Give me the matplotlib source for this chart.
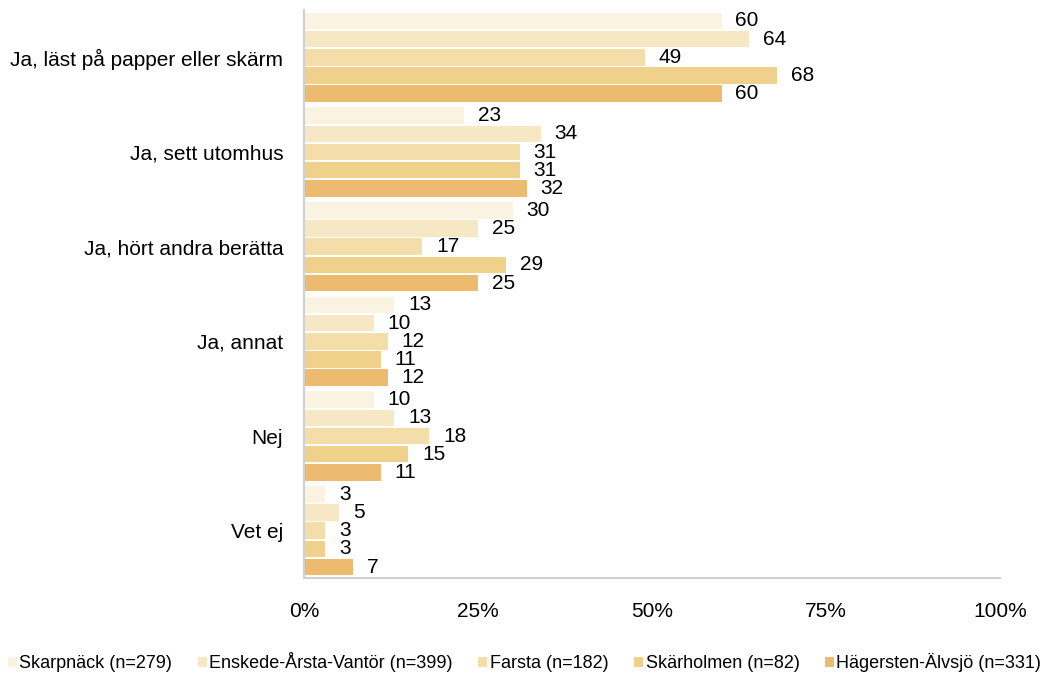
import numpy as np
import matplotlib
matplotlib.use("Agg")
import matplotlib.pyplot as plt

plt.rcParams['font.family'] = ['Liberation Sans', 'DejaVu Sans']

categories = ['Ja, läst på papper eller skärm', 'Ja, sett utomhus', 'Ja, hört andra berätta',
              'Ja, annat', 'Nej', 'Vet ej']
series_names = ['Skarpnäck (n=279)', 'Enskede-Årsta-Vantör (n=399)', 'Farsta (n=182)',
                'Skärholmen (n=82)', 'Hägersten-Älvsjö (n=331)']
skarpnack = [60, 23, 30, 13, 10, 3]
enskede = [64, 34, 25, 10, 13, 5]
farsta = [49, 31, 17, 12, 18, 3]
skarholmen = [68, 31, 29, 11, 15, 3]
hagersten = [60, 32, 25, 12, 11, 7]
values = [skarpnack, enskede, farsta, skarholmen, hagersten]
colors = ['#FAF3E2', '#F7E8C5', '#F3DDA8', '#F0D18C', '#ECBB70']

fig = plt.figure(figsize=(10.49, 6.75), dpi=100)
ax = fig.add_axes([304/1049, 1-578/675, 696/1049, 568/675])

n = len(series_names)
pitch = 0.192
bh = 0.175
y = np.arange(len(categories))
for i, (vals, c, name) in enumerate(zip(values, colors, series_names)):
    pos = y + (i - (n-1)/2) * pitch
    ax.barh(pos, vals, height=bh, color=c, label=name)
    for p, v in zip(pos, vals):
        ax.annotate(str(v), (v, p), xytext=(10, 0), textcoords='offset points',
                    va='center', ha='left', fontsize=15, color='black')

ax.set_ylim(len(categories) - 0.5, -0.5)
ax.set_xlim(0, 100)
ax.set_xticks([0, 25, 50, 75, 100])
ax.set_xticklabels(['0%', '25%', '50%', '75%', '100%'], fontsize=15)
ax.set_yticks(y)
ax.set_yticklabels(categories, fontsize=15)
ax.tick_params(axis='both', length=0)
ax.tick_params(axis='x', pad=17)
ax.tick_params(axis='y', pad=15)
for s in ['top', 'right']:
    ax.spines[s].set_visible(False)
for s in ['left', 'bottom']:
    ax.spines[s].set_color('#D0D0D0')
    ax.spines[s].set_linewidth(1.5)

fig.legend(loc='lower center', bbox_to_anchor=(0.5, -0.02), ncol=5, frameon=False,
           fontsize=13, handlelength=0.5, handleheight=0.5, handletextpad=0.15,
           columnspacing=1.4)

fig.savefig('out.png', dpi=100)
